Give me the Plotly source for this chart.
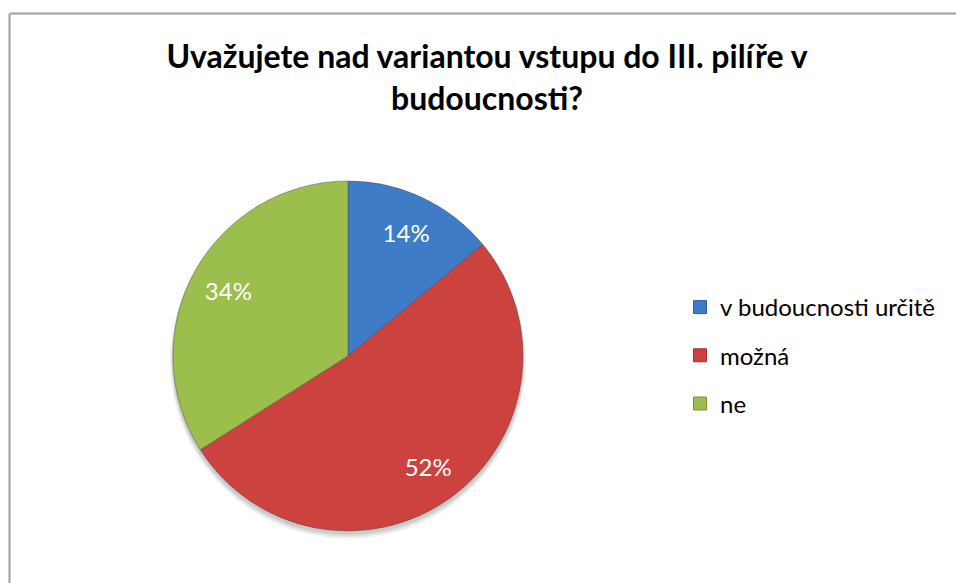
import plotly.graph_objects as go

labels = ["v budoucnosti určitě", "možná", "ne"]
values = [14, 52, 34]
colors = ["#3E7CC8", "#CC423F", "#9CBE4C"]
edge_colors = ["#2E5F9E", "#9E2F2D", "#76953A"]
title_text = "Uvažujete nad variantou vstupu do III. pilíře v<br>budoucnosti?"

W, H = 956, 583
cx, cy, r = 348, 356, 175
dom = dict(x=[(cx - r) / W, (cx + r) / W], y=[(H - cy - r) / H, (H - cy + r) / H])

fig = go.Figure()
# coloured slices
fig.add_trace(go.Pie(
    labels=labels, values=values, sort=False, direction="clockwise", rotation=0,
    marker=dict(colors=colors, line=dict(color="rgba(70,70,70,0.45)", width=1)),
    textinfo="none", domain=dom, showlegend=False, hoverinfo="label+percent",
))
# percentage labels placed in the outer ring (Excel puts them at ~0.78 r)
fig.add_trace(go.Pie(
    labels=labels, values=values, sort=False, direction="clockwise", rotation=0,
    hole=0.56,
    marker=dict(colors=["rgba(0,0,0,0)"] * 3, line=dict(width=0)),
    textinfo="percent", textposition="inside", insidetextorientation="horizontal",
    textfont=dict(family="Lato", size=24, color="white"),
    domain=dom, showlegend=False, hoverinfo="skip",
))
# legend entries
for i, (lab, col) in enumerate(zip(labels, colors)):
    fig.add_trace(go.Scatter(
        x=[None], y=[None], mode="markers", name=lab, legendgroup=f"g{i}",
        marker=dict(symbol="square", size=13, color=col, line=dict(color=edge_colors[i], width=1)),
        showlegend=True, hoverinfo="skip",
    ))

# soft drop shadow under the pie
shadow = []
for k, a in [(6, 0.05), (4, 0.07), (2, 0.09)]:
    shadow.append(dict(type="circle", xref="paper", yref="paper",
                       x0=(cx - r - k / 2) / W, x1=(cx + r + k / 2) / W,
                       y0=(H - cy - r - k - 2) / H, y1=(H - cy + r - 2) / H,
                       line=dict(width=0), fillcolor=f"rgba(0,0,0,{a})", layer="below"))

border = [
    dict(type="line", xref="paper", yref="paper", x0=9.5 / W, x1=1.5,
         y0=1 - 13.5 / H, y1=1 - 13.5 / H, line=dict(color="#A0A0A0", width=2), layer="below"),
    dict(type="line", xref="paper", yref="paper", x0=9.5 / W, x1=9.5 / W,
         y0=-0.5, y1=1 - 13.5 / H, line=dict(color="#A0A0A0", width=2), layer="below"),
]

fig.update_layout(
    width=W, height=H,
    margin=dict(l=0, r=0, t=0, b=0),
    paper_bgcolor="white", plot_bgcolor="white",
    xaxis=dict(visible=False), yaxis=dict(visible=False),
    title=dict(text=title_text, x=487 / W, xanchor="center", y=1 - 68 / H, yanchor="top",
               font=dict(family="Lato", size=32, color="black", weight="bold")),
    legend=dict(x=680 / W, xanchor="left", y=1 - 285 / H, yanchor="top",
                font=dict(family="Lato", size=24, color="black"),
                traceorder="grouped", tracegroupgap=14, itemwidth=30),
    shapes=shadow + border,
)

fig.write_html("out.html", config={"displayModeBar": False},
               post_script="document.body.style.margin='0';document.body.style.overflow='hidden';")
